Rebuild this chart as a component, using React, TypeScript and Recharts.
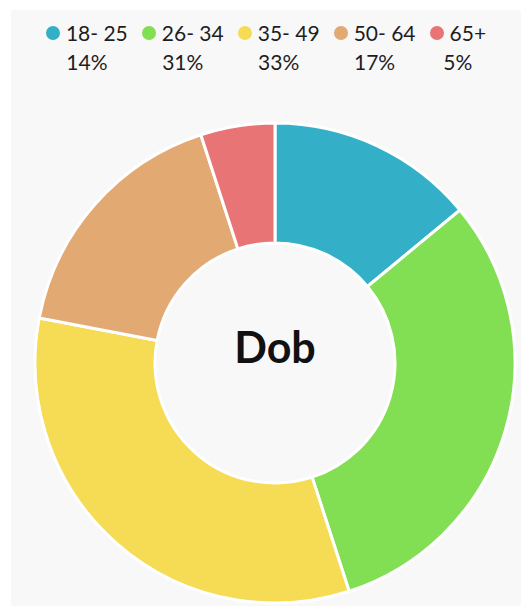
import { PieChart, Pie, Cell, Label } from "recharts";

const groups = ["18- 25", "26- 34", "35- 49", "50- 64", "65+"];
const shares = [14, 31, 33, 17, 5];
const colors = ["#33b0c8", "#82de52", "#f6db55", "#e3a973", "#e87476"];
const centerTitle = "Dob";

const data = groups.map((name, i) => ({ name, value: shares[i] }));

const FONT = "Lato, 'Open Sans', sans-serif";
const MARGIN = 5;
const CX = 259;
const CY = 348;

function AgeLegend() {
  return (
    <div
      style={{
        position: "absolute",
        top: 8,
        left: 0,
        width: 510,
        display: "flex",
        justifyContent: "center",
        gap: 14,
        fontFamily: FONT,
        fontSize: 21,
        color: "#1e1e1e",
        lineHeight: "29px",
      }}
    >
      {data.map((d, i) => (
        <div
          key={d.name}
          style={{ display: "flex", flexDirection: "column", alignItems: "center" }}
        >
          <div style={{ display: "flex", alignItems: "center", whiteSpace: "pre" }}>
            <span
              style={{
                width: 14,
                height: 14,
                borderRadius: "50%",
                background: colors[i],
                display: "inline-block",
                marginRight: 6,
              }}
            />
            {d.name}
          </div>
          <div>{d.value}%</div>
        </div>
      ))}
    </div>
  );
}

export default function App() {
  return (
    <div
      style={{
        position: "absolute",
        left: 0,
        top: 0,
        width: 521,
        height: 606,
        background: "#ffffff",
      }}
    >
      <div
        style={{
          position: "absolute",
          left: 11,
          top: 10,
          width: 510,
          height: 596,
          background: "#f9f8f9",
        }}
      >
        <PieChart
          width={510}
          height={596}
          margin={{ top: MARGIN, right: MARGIN, bottom: MARGIN, left: MARGIN }}
        >
          <Pie
            data={data}
            dataKey="value"
            nameKey="name"
            cx={CX}
            cy={CY}
            innerRadius={120}
            outerRadius={240}
            startAngle={90}
            endAngle={-270}
            stroke="#ffffff"
            strokeWidth={3}
            isAnimationActive={false}
          >
            {data.map((d, i) => (
              <Cell key={d.name} fill={colors[i]} />
            ))}
            <Label
              position="center"
              content={() => (
                <text
                  x={CX + MARGIN}
                  y={CY + MARGIN}
                  textAnchor="middle"
                  fontFamily={FONT}
                  fontWeight={700}
                  fontSize={43}
                  fill="#111111"
                >
                  {centerTitle}
                </text>
              )}
            />
          </Pie>
        </PieChart>
        <AgeLegend />
      </div>
    </div>
  );
}
